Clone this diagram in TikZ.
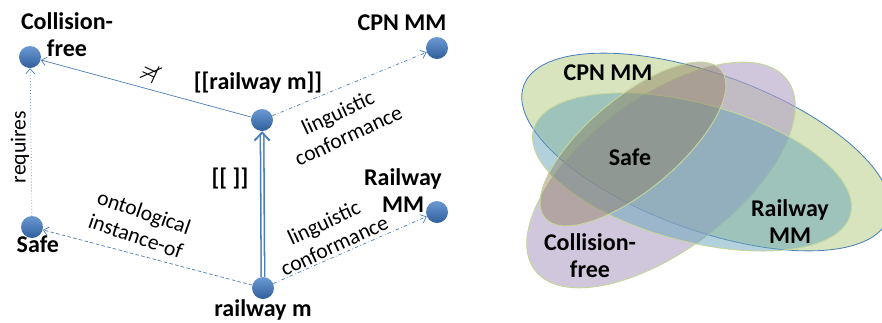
\documentclass[tikz,border=0pt]{standalone}
\usepackage{amssymb}
\usepackage{fontspec}
\setmainfont{Carlito}
\usetikzlibrary{positioning, arrows.meta}

\definecolor{dotblue}{HTML}{3B77C3}
\definecolor{lineblue}{HTML}{4A7EBB}
\definecolor{cpngreen}{HTML}{D7E4BD}
\definecolor{rimgreen}{HTML}{C3D69B}
\definecolor{cfpurple}{HTML}{B3A2C7}
\definecolor{rwteal}{HTML}{66A4BA}
\definecolor{safetan}{HTML}{8C7D5F}

\begin{document}
\begin{tikzpicture}[x=0.03cm, y=-0.03cm,
    every node/.style={font=\fontsize{18.5}{21.5}\selectfont, align=center, inner sep=1pt},
    head/.style={font=\fontsize{20.5}{23}\selectfont\bfseries},
    dot/.style={circle, minimum size=0.66cm, inner sep=0pt, top color=dotblue!75!white, bottom color=dotblue!80!black},
    rel/.style={draw=lineblue, line width=0.6pt, -{Straight Barb[length=1.5mm, width=2.6mm]}},
    blob/.style={draw=rimgreen, line width=0.8pt, fill opacity=#1}]
    \useasboundingbox (0,0) rectangle (882,322);

    % left: models and metamodels
    \node[dot] (cf) at (30,57) {};
    \node[dot] (safe) at (32,227) {};
    \node[dot] (rm) at (263,288) {};
    \node[dot] (sem) at (262,120) {};
    \node[dot] (cpn) at (437,48) {};
    \node[dot] (rwmm) at (437,212) {};

    \node[head] (cf-l) at (67,35) {Collision-\\free};
    \node[head, below=-3pt of safe, xshift=5pt] (safe-l) {Safe};
    \node[head, below=-1pt of rm] (rm-l) {railway m};
    \node[head] (sem-l) at (258,83) {[[railway m]]};
    \node[head] (cpn-l) at (402,23) {CPN MM};
    \node[head] (rwmm-l) at (403,191) {Railway\\MM};

    \draw[rel] (sem) -- (cf);
    \draw[rel, dotted] (safe) -- (cf);
    \draw[rel, densely dashed] (rm) -- (safe);
    \draw[rel, dash dot] (sem) -- (cpn);
    \draw[rel, dash dot] (rm) -- (rwmm);
    \draw[draw=lineblue, line width=1.3pt, double=white, double distance=1.6pt,
          -{Straight Barb[length=2.4mm, width=4.6mm, line width=1.6pt]}] (rm) -- (sem);

    \node[rotate=155, scale=1.25] (nmod) at (150,72) {$\nvDash$};
    \node[head] (sem-op) at (230,178) {[[ ]]};
    \node[rotate=90] (req) at (20,147) {requires};
    \node[rotate=-19] (inst) at (140,224) {ontological\\instance-of};
    \node[rotate=25] (conf-top) at (343,124) {linguistic\\conformance};
    \node[rotate=25] (conf-bot) at (329,234) {linguistic\\conformance};

    % right: the same sets as overlapping regions
    \filldraw[fill=cpngreen, draw=lineblue, line width=0.7pt, rotate around={-20:(706,152)}]
        (706,152) ellipse [x radius=194, y radius=78];
    \filldraw[blob=0.6, fill=cfpurple, rotate around={37:(661,175)}]
        (661,175) ellipse [x radius=158, y radius=76];
    \filldraw[blob=0.5, fill=rwteal, rotate around={-15:(692,172)}]
        (692,172) ellipse [x radius=164, y radius=69];
    \filldraw[blob=0.45, fill=safetan, rotate around={40:(633,144)}]
        (633,144) ellipse [x radius=115, y radius=46];

    \node[head] (cpn-r) at (608,73) {CPN MM};
    \node[head] (safe-r) at (630,157) {Safe};
    \node[head] (rwmm-r) at (790,222) {Railway\\MM};
    \node[head] (cf-r) at (590,256) {Collision-\\free};
\end{tikzpicture}
\end{document}
